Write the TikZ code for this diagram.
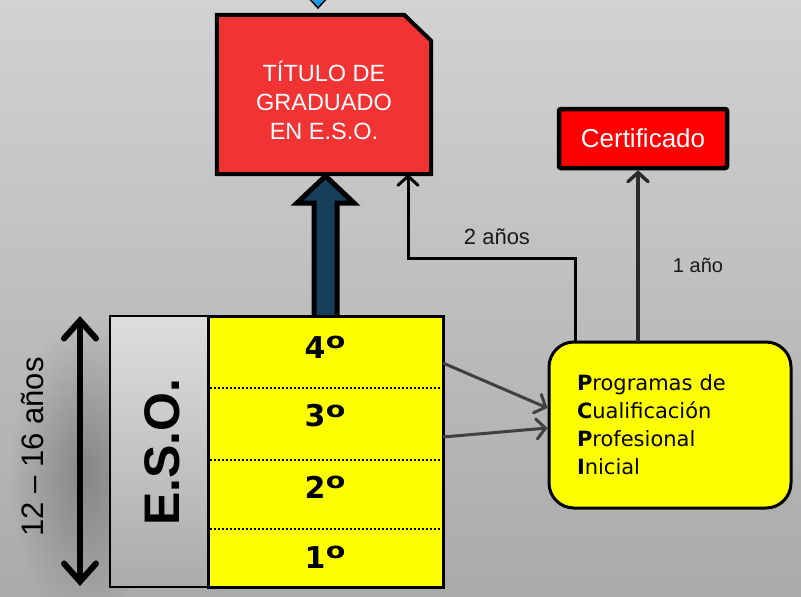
\documentclass[tikz,border=0pt]{standalone}
\usepackage{fontspec}
\setmainfont{Liberation Sans}
\newfontfamily\dejavu{DejaVu Sans}
\usetikzlibrary{arrows.meta,fadings,calc}
\tikzfading[name=softblob, inner color=transparent!0, outer color=transparent!100]
\definecolor{bgtop}{RGB}{210,210,210}
\definecolor{bgbot}{RGB}{170,170,170}
\definecolor{titred}{RGB}{242,51,51}
\definecolor{navy}{RGB}{21,63,90}
\definecolor{darkln}{RGB}{42,42,42}
\definecolor{midln}{RGB}{64,64,64}
\definecolor{dblue}{RGB}{30,155,230}
\definecolor{pureyellow}{RGB}{255,255,0}
\newcommand{\ordo}{\kern0.5pt\raisebox{9.6pt}{\scalebox{0.95}[0.74]{o}}}
\tikzset{
  conn/.style={line width=3pt,-{Straight Barb[length=9pt,width=20pt,line cap=round]}},
  lbl/.style={font=\fontsize{22}{26}\selectfont, text=black!90},
  course/.style={font=\dejavu\bfseries\fontsize{30}{32}\selectfont},
  agetip/.tip={Straight Barb[length=18pt,width=32pt,line cap=round]},
}
\begin{document}
\begin{tikzpicture}[x=1pt,y=-1pt]
\clip (0,0) rectangle (801,597);
\useasboundingbox (0,0) rectangle (801,597);
\shade[top color=bgtop, bottom color=bgbot] (0,0) rectangle (801,597);
% soft shadow on the left
\fill[black,opacity=0.25,path fading=softblob] (85,470) ellipse (75 and 150);
% diamond at top
\draw[fill=dblue,line width=1.5pt] (318,8) -- (329,-4) -- (318,-16) -- (307,-4) -- cycle;
% title
\node[minimum width=214pt, minimum height=159pt, inner sep=0pt] (title) at (324,94.5) {};
\draw[line width=4pt, fill=titred, line join=miter]
  (title.north west) -- ($(title.north east)+(-27,0)$) -- ($(title.north east)+(0,26)$)
  -- (title.south east) -- (title.south west) -- cycle;
\node[text=white, align=center, font=\fontsize{23.5}{29}\selectfont] (titletxt) at (324,100)
      {TÍTULO DE\\GRADUADO\\EN E.S.O.};
% certificado
\node[draw=black, line width=4.5pt, fill=red, rounded corners=2pt,
      minimum width=168pt, minimum height=59pt, inner sep=0pt, text=white,
      font=\fontsize{26}{30}\selectfont] (cert) at (643,138.5) {Certificado};
% big block arrow
\draw[line width=5pt, fill=navy, line join=miter]
  (314,318) -- (314,203) -- (297,203) -- (325.5,176) -- (354,203) -- (337,203) -- (337,318) -- cycle;
% ESO boxes
\node[draw=black, line width=2.5pt, top color=black!13, bottom color=black!33,
      minimum width=98pt, minimum height=271pt, inner sep=0pt] (esolab) at (159,451.5) {};
\node[rotate=90, font=\bfseries\fontsize{50}{52}\selectfont] (esotxt) at (162,452) {E.S.O.};
\node[draw=black, line width=3pt, fill=pureyellow,
      minimum width=235pt, minimum height=271pt, inner sep=0pt] (eso) at (325.5,451.5) {};
\draw[line width=2pt, dotted] (209.5,388) -- (441.5,388);
\draw[line width=2pt, dotted] (209.5,460) -- (441.5,460);
\draw[line width=2pt, dotted] (209.5,529) -- (441.5,529);
\node[course] (c4) at (325,347) {4\ordo};
\node[course] (c3) at (325,416) {3\ordo};
\node[course] (c2) at (325,487) {2\ordo};
\node[course] (c1) at (325,557) {1\ordo};
% age arrow
\coordinate (agetop) at (80,316);
\coordinate (agebot) at (80,586);
\draw[line width=6pt, agetip-agetip] (agetop) -- (agebot);
\node[rotate=90, font=\fontsize{31}{34}\selectfont] (age) at (33,447) {12 – 16 años};
% PCPI
\node[draw=black, line width=3pt, fill=pureyellow, rounded corners=25pt,
      minimum width=242pt, minimum height=166pt, inner sep=0pt,
      text width=186pt, align=left,
      font=\dejavu\fontsize{21}{28}\selectfont] (pcpi) at (670,425)
      {\textbf{P}rogramas de\\\textbf{C}ualificación\\\textbf{P}rofesional\\\textbf{I}nicial};
% connectors
\coordinate (a1) at (575,258);
\coordinate (a2) at (408,258);
\draw[conn, line join=miter] (a1 |- pcpi.north) -- (a1) -- (a2) -- (a2 |- title.south);
\draw[conn, darkln, line width=3.5pt] (638,342) -- (cert.south -| 638,0);
\coordinate (o4) at (443,363);
\coordinate (o3) at (443,437);
\draw[conn, midln] (o4) -- (pcpi.west |- 0,408);
\draw[conn, midln] (o3) -- (pcpi.west |- 0,428);
\node[lbl] (l2) at (497,237) {2 años};
\node[lbl, font=\fontsize{20}{24}\selectfont] (l1) at (698,265) {1 año};
\end{tikzpicture}
\end{document}
